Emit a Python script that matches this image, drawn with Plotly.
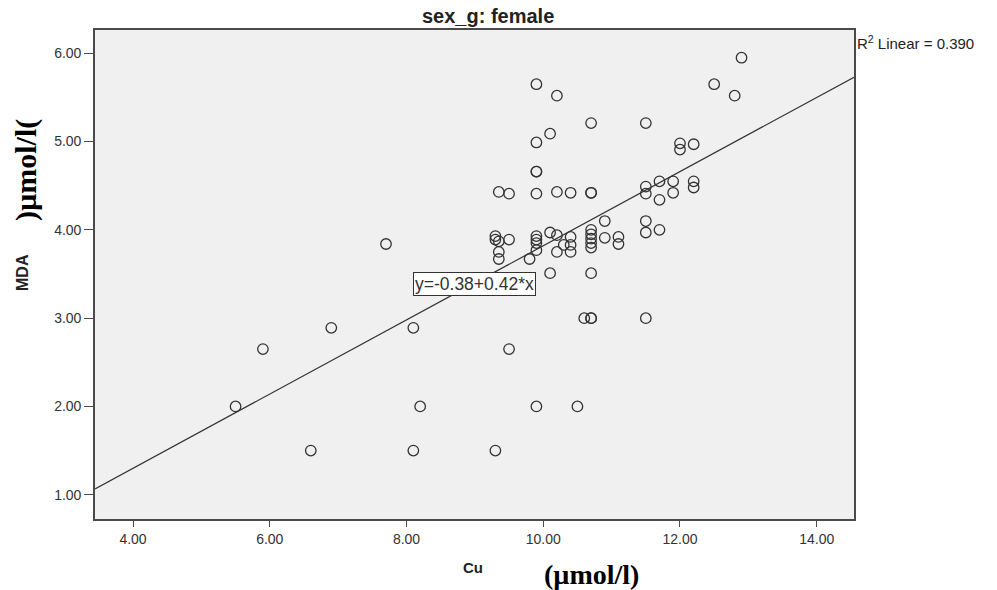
import plotly.graph_objects as go

# Data
cu = [5.5, 5.9, 6.6, 6.9, 7.7, 8.1, 8.2, 8.1, 9.3, 9.5, 9.9, 10.5,
      10.6, 10.7, 10.7, 11.5, 10.1, 10.7, 9.35, 9.35, 9.8,
      9.3, 9.3, 9.35, 9.5, 9.9, 9.9, 9.9, 9.9, 10.1, 10.2, 10.4, 10.3, 10.4, 10.4, 10.2,
      10.7, 10.7, 10.7, 10.7, 10.7, 10.9, 10.9, 11.1, 11.1, 11.5, 11.5,
      9.9, 10.2, 10.7, 11.5, 10.1, 9.9, 9.9, 9.9,
      9.35, 9.5, 9.9, 10.2, 10.4, 10.7, 10.7, 11.5, 11.5,
      12.9, 12.5, 12.8, 12.0, 12.0, 12.2, 11.7, 11.9, 11.9, 11.7, 12.2, 12.2, 11.7]
mda = [2.0, 2.65, 1.5, 2.89, 3.84, 2.89, 2.0, 1.5, 1.5, 2.65, 2.0, 2.0,
       3.0, 3.0, 3.0, 3.0, 3.51, 3.51, 3.75, 3.67, 3.67,
       3.93, 3.89, 3.87, 3.89, 3.93, 3.89, 3.85, 3.77, 3.97, 3.94, 3.92, 3.83, 3.83, 3.75, 3.75,
       4.0, 3.95, 3.9, 3.85, 3.8, 4.1, 3.91, 3.92, 3.84, 4.1, 3.97,
       5.65, 5.52, 5.21, 5.21, 5.09, 4.99, 4.66, 4.66,
       4.43, 4.41, 4.41, 4.43, 4.42, 4.42, 4.42, 4.49, 4.41,
       5.95, 5.65, 5.52, 4.98, 4.91, 4.97, 4.55, 4.55, 4.42, 4.34, 4.55, 4.48, 4.0]

fit_intercept = -0.38
fit_slope = 0.42
r2_text = "R<sup>2</sup> Linear = 0.390"
eq_text = "y=-0.38+0.42*x"

x_tick_vals = [4, 6, 8, 10, 12, 14]
x_tick_text = ["4.00", "6.00", "8.00", "10.00", "12.00", "14.00"]
y_tick_vals = [1, 2, 3, 4, 5, 6]
y_tick_text = ["1.00", "2.00", "3.00", "4.00", "5.00", "6.00"]

x_range = [3.444, 14.545]
y_range = [0.725, 6.264]

line_x = x_range
line_y = [fit_intercept + fit_slope * v for v in line_x]

SANS = "Liberation Sans, Arial, sans-serif"
SERIF = "Liberation Serif, Times New Roman, serif"

fig = go.Figure()
fig.add_trace(go.Scatter(
    x=line_x, y=line_y, mode="lines",
    line=dict(color="#333333", width=1.2),
    hoverinfo="skip", showlegend=False))
fig.add_trace(go.Scatter(
    x=cu, y=mda, mode="markers",
    marker=dict(symbol="circle-open", size=10.5, color="#333333",
                line=dict(color="#333333", width=1.3)),
    showlegend=False))

axis_common = dict(
    showgrid=False, zeroline=False, showline=True, mirror=True,
    linecolor="#4a4a4a", linewidth=1.6,
    ticks="outside", tickwidth=1.3, tickcolor="#4a4a4a",
    tickfont=dict(family=SANS, size=14, color="#333333"),
)

L, T, W, H = 95, 30, 759, 489

fig.update_layout(
    width=997, height=590,
    margin=dict(l=L, r=997 - L - W, t=T, b=590 - T - H),
    paper_bgcolor="white", plot_bgcolor="#f0f0f0",
    xaxis=dict(range=x_range, tickvals=x_tick_vals, ticktext=x_tick_text,
               ticklen=6, **axis_common),
    yaxis=dict(range=y_range, tickvals=y_tick_vals, ticktext=y_tick_text,
               ticklen=9, **axis_common),
    annotations=[
        dict(text="<b>sex_g: female</b>", xref="paper", yref="paper",
             x=(488 - L) / W, y=1, yshift=14, showarrow=False,
             xanchor="center", yanchor="middle",
             font=dict(family=SANS, size=20, color="#222222")),
        dict(text=r2_text, xref="paper", yref="paper",
             x=1, y=1, xshift=1, yshift=-12, showarrow=False,
             xanchor="left", yanchor="middle",
             font=dict(family=SANS, size=15, color="#222222")),
        dict(text=eq_text, xref="x", yref="y", x=9.0, y=3.39,
             showarrow=False, xanchor="center", yanchor="middle",
             bgcolor="white", bordercolor="#333333", borderwidth=1, borderpad=1,
             font=dict(family=SANS, size=17.5, color="#333333")),
        dict(text="<b>Cu</b>", xref="paper", yref="paper",
             x=(473 - L) / W, y=0, yshift=-(567 - T - H), showarrow=False,
             xanchor="center", yanchor="middle",
             font=dict(family=SANS, size=15, color="#222222")),
        dict(text="<b>(µmol/l)</b>", xref="paper", yref="paper",
             x=(591 - L) / W, y=0, yshift=-(574 - T - H), showarrow=False,
             xanchor="center", yanchor="middle",
             font=dict(family=SERIF, size=28, color="#000000")),
        dict(text="<b>MDA</b>", xref="paper", yref="paper",
             x=0, xshift=-(L - 22), y=(T + H - 273) / H, showarrow=False, textangle=-90,
             xanchor="center", yanchor="middle",
             font=dict(family=SANS, size=16, color="#222222")),
        dict(text="<b>)µmol/l(</b>", xref="paper", yref="paper",
             x=0, xshift=-(L - 26), y=(T + H - 170) / H, showarrow=False, textangle=-90,
             xanchor="center", yanchor="middle",
             font=dict(family=SERIF, size=30, color="#000000")),
    ],
)

fig.write_html("out.html",
               config={"displayModeBar": False},
               post_script="document.body.style.margin='0';document.body.style.padding='0';")
